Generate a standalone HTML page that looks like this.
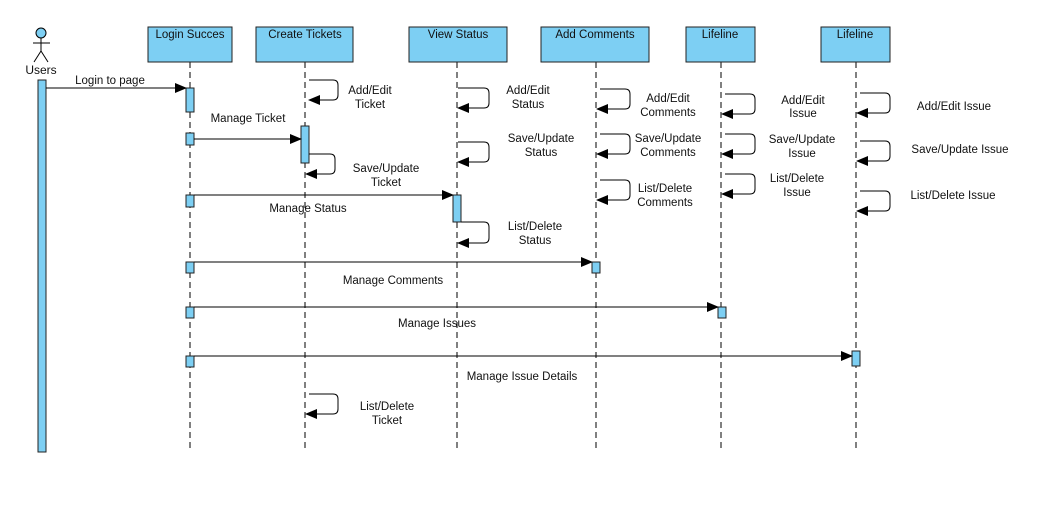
<!DOCTYPE html>
<html><head><meta charset="utf-8"><style>
body{margin:0;background:#fff}
svg text{font-family:"Liberation Sans",Arial,sans-serif;font-size:11.5px;fill:#111}
</style></head><body>
<svg width="1060" height="510" xmlns="http://www.w3.org/2000/svg">
<defs>
<marker id="a" markerWidth="12" markerHeight="10" refX="11" refY="5" orient="auto" markerUnits="userSpaceOnUse"><path d="M0,0 L12,5 L0,10Z" fill="#000"/></marker>
</defs>
<rect width="1060" height="510" fill="#fff"/>
<!-- actor -->
<g stroke="#000" fill="none" stroke-width="1">
<circle cx="41" cy="33" r="5" fill="#7dcff3"/>
<line x1="41" y1="38" x2="41" y2="51"/><line x1="33" y1="43" x2="50" y2="43"/>
<line x1="41" y1="51" x2="34" y2="62"/><line x1="41" y1="51" x2="48" y2="62"/>
</g>
<text x="41" y="74" text-anchor="middle" style="font-size:12px">Users</text>
<!-- lifelines -->
<g stroke="#000" stroke-dasharray="6,4" stroke-width="1">
<line x1="190" y1="62" x2="190" y2="452"/><line x1="305" y1="62" x2="305" y2="452"/>
<line x1="457" y1="62" x2="457" y2="452"/><line x1="596" y1="62" x2="596" y2="452"/>
<line x1="721" y1="62" x2="721" y2="452"/><line x1="856" y1="62" x2="856" y2="452"/>
</g>
<g fill="#7dcff3" stroke="#222" stroke-width="1">
<rect x="148" y="27" width="84" height="35"/><rect x="256" y="27" width="97" height="35"/>
<rect x="409" y="27" width="98" height="35"/><rect x="541" y="27" width="108" height="35"/>
<rect x="686" y="27" width="69" height="35"/><rect x="821" y="27" width="69" height="35"/>
<rect x="38" y="80" width="8" height="372"/>
<rect x="186" y="88" width="8" height="24"/><rect x="186" y="133" width="8" height="12"/>
<rect x="186" y="195" width="8" height="12"/><rect x="186" y="262" width="8" height="11"/>
<rect x="186" y="307" width="8" height="11"/><rect x="186" y="356" width="8" height="11"/>
<rect x="301" y="126" width="8" height="37"/><rect x="453" y="195" width="8" height="27"/>
<rect x="592" y="262" width="8" height="11"/><rect x="718" y="307" width="8" height="11"/>
<rect x="852" y="351" width="8" height="15"/>
</g>
<g style="font-size:12px" text-anchor="middle">
<text x="190" y="38">Login Succes</text><text x="305" y="38">Create Tickets</text>
<text x="458" y="38">View Status</text><text x="595" y="38">Add Comments</text>
<text x="720" y="38">Lifeline</text><text x="855" y="38">Lifeline</text>
</g>
<!-- messages -->
<g stroke="#000" stroke-width="1" marker-end="url(#a)">
<line x1="46" y1="88" x2="186" y2="88"/><line x1="194" y1="139" x2="301" y2="139"/>
<line x1="194" y1="195" x2="453" y2="195"/><line x1="194" y1="262" x2="592" y2="262"/>
<line x1="194" y1="307" x2="718" y2="307"/><line x1="194" y1="356" x2="852" y2="356"/>
</g>
<g style="font-size:10.5px" text-anchor="middle">
<text x="110" y="84">Login to page</text><text x="248" y="122">Manage Ticket</text>
<text x="308" y="212">Manage Status</text><text x="393" y="284">Manage Comments</text>
<text x="437" y="327">Manage Issues</text><text x="522" y="380">Manage Issue Details</text>
</g>
<!-- self loops -->
<g stroke="#000" stroke-width="1" fill="none" marker-end="url(#a)">
<path d="M309,80 H333 Q338,80 338,85 V95 Q338,100 333,100 H309"/>
<path d="M309,154 H330 Q335,154 335,159 V169 Q335,174 330,174 H306"/>
<path d="M309,394 H333 Q338,394 338,399 V409 Q338,414 333,414 H306"/>
<path d="M458,88 H484 Q489,88 489,93 V103 Q489,108 484,108 H458"/>
<path d="M458,142 H484 Q489,142 489,147 V157 Q489,162 484,162 H458"/>
<path d="M461,222 H484 Q489,222 489,227 V238 Q489,243 484,243 H458"/>
<path d="M600,89 H625 Q630,89 630,94 V104 Q630,109 625,109 H597"/>
<path d="M600,134 H625 Q630,134 630,139 V149 Q630,154 625,154 H597"/>
<path d="M600,180 H625 Q630,180 630,185 V195 Q630,200 625,200 H597"/>
<path d="M725,94 H750 Q755,94 755,99 V109 Q755,114 750,114 H722"/>
<path d="M725,134 H750 Q755,134 755,139 V149 Q755,154 750,154 H722"/>
<path d="M725,174 H750 Q755,174 755,179 V189 Q755,194 750,194 H722"/>
<path d="M860,93 H885 Q890,93 890,98 V108 Q890,113 885,113 H857"/>
<path d="M860,141 H885 Q890,141 890,146 V156 Q890,161 885,161 H857"/>
<path d="M860,191 H885 Q890,191 890,196 V206 Q890,211 885,211 H857"/>
</g>
<g text-anchor="middle">
<text x="370" y="94">Add/Edit</text><text x="370" y="108">Ticket</text>
<text x="386" y="172">Save/Update</text><text x="386" y="186">Ticket</text>
<text x="387" y="410">List/Delete</text><text x="387" y="424">Ticket</text>
<text x="528" y="94">Add/Edit</text><text x="528" y="108">Status</text>
<text x="541" y="142">Save/Update</text><text x="541" y="156">Status</text>
<text x="535" y="230">List/Delete</text><text x="535" y="244">Status</text>
<text x="668" y="102">Add/Edit</text><text x="668" y="116">Comments</text>
<text x="668" y="142">Save/Update</text><text x="668" y="156">Comments</text>
<text x="665" y="192">List/Delete</text><text x="665" y="206">Comments</text>
<text x="803" y="104">Add/Edit</text><text x="803" y="117">Issue</text>
<text x="802" y="143">Save/Update</text><text x="802" y="157">Issue</text>
<text x="797" y="182">List/Delete</text><text x="797" y="196">Issue</text>
<text x="954" y="110">Add/Edit Issue</text>
<text x="960" y="153">Save/Update Issue</text>
<text x="953" y="199">List/Delete Issue</text>
</g>
</svg>
</body></html>
